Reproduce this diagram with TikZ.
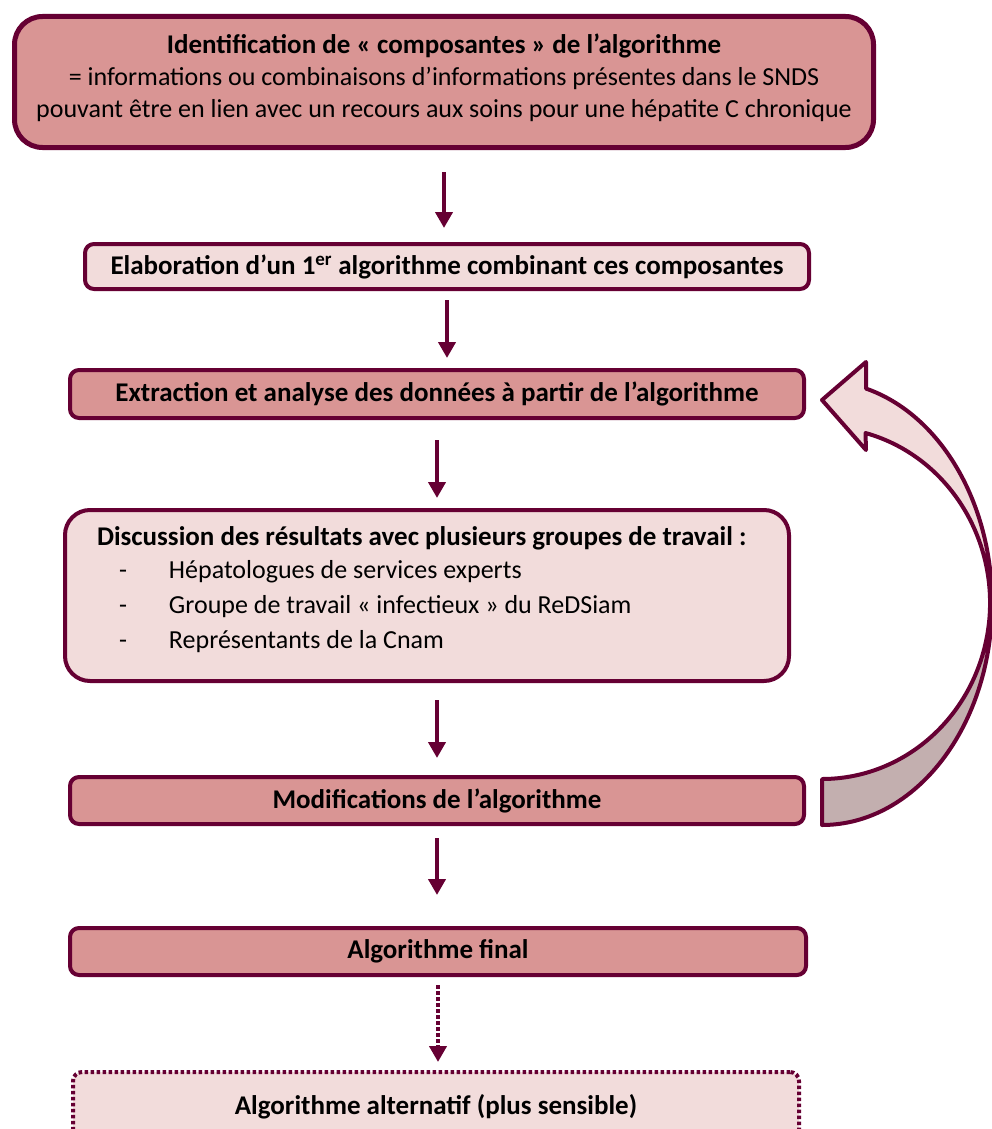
\documentclass[tikz,border=0pt]{standalone}
\usepackage{fontspec}
\setmainfont{Carlito}
\usetikzlibrary{arrows.meta,positioning}

\definecolor{maroon}{HTML}{660033}
\definecolor{rosedark}{HTML}{D99594}
\definecolor{roselight}{HTML}{F2DCDB}
\definecolor{rosegrey}{HTML}{C3AFAF}

\begin{document}
\begin{tikzpicture}[
    x=1pt, y=1pt,
    node distance=92pt,
    box/.style={rectangle,draw=maroon,line width=4pt,rounded corners=9pt,align=center,
      font=\fontsize{27}{32}\selectfont\bfseries},
    darkbox/.style={box,fill=rosedark},
    lightbox/.style={box,fill=roselight},
    arrow/.style={-{Triangle[length=16pt,width=17pt]},line width=4pt,draw=maroon},
    dotarrow/.style={arrow,dash pattern=on 3.5pt off 2.5pt},
    line join=round
]
\useasboundingbox (0,0) rectangle (991,-1129);

% Steps of the algorithm
\node[darkbox,rounded corners=28pt,line width=5pt,minimum width=859pt,minimum height=131pt,
      font=\fontsize{26}{32}\selectfont] (ident) at (444,-82)
  {{\fontsize{27}{32}\selectfont\bfseries Identification de « composantes » de l’algorithme}\\
   = informations ou combinaisons d’informations présentes dans le SNDS\\
   pouvant être en lien avec un recours aux soins pour une hépatite C chronique\rule[-12pt]{0pt}{0pt}};
\node[lightbox,minimum width=724pt,minimum height=45pt,below=92pt of ident,xshift=3pt] (first)
  {Elaboration d’un 1\textsuperscript{er} algorithme combinant ces composantes};
\node[darkbox,minimum width=734pt,minimum height=48pt,below=77pt of first,xshift=-10pt] (extract)
  {Extraction et analyse des données à partir de l’algorithme};
\node[lightbox,rounded corners=25pt,minimum width=724pt,minimum height=171pt,
      below=88pt of extract,xshift=-10pt,align=flush left,inner xsep=32pt,text width=660pt,
      font=\fontsize{26}{30}\selectfont] (discuss)
  {{\fontsize{27}{30}\selectfont\bfseries Discussion des résultats avec plusieurs groupes de travail :}\\[3pt]
   \hspace*{22pt}\makebox[50pt][l]{-}Hépatologues de services experts\\[5pt]
   \hspace*{22pt}\makebox[50pt][l]{-}Groupe de travail « infectieux » du ReDSiam\\[5pt]
   \hspace*{22pt}\makebox[50pt][l]{-}Représentants de la Cnam\rule[-16pt]{0pt}{0pt}};
\node[darkbox,minimum width=734pt,minimum height=47pt,below=92pt of discuss,xshift=10pt] (modif)
  {Modifications de l’algorithme};
\node[darkbox,minimum width=736pt,minimum height=47pt,below=100pt of modif,xshift=1pt] (final)
  {Algorithme final};
\node[lightbox,line width=4pt,dash pattern=on 3.5pt off 2.5pt,minimum width=726pt,minimum height=70pt,
      below=93pt of final,xshift=-2pt] (altern)
  {Algorithme alternatif (plus sensible)};

% Arrows
\draw[arrow,shorten <=22pt,shorten >=14pt] (ident.south) -- (ident.south |- first.north);
\draw[arrow,shorten <=9pt,shorten >=10pt] (first.south) -- (first.south |- extract.north);
\draw[arrow,shorten <=20pt,shorten >=10pt] (extract.south) -- (extract.south |- discuss.north);
\draw[arrow,shorten <=17pt,shorten >=17pt] (discuss.south -| modif.north) -- (modif.north);
\draw[arrow,shorten <=12pt,shorten >=31pt] (modif.south) -- (modif.south |- final.north);
\draw[dotarrow,shorten <=8pt,shorten >=8pt] (final.south) -- (final.south |- altern.north);

% Loop back from the modifications to the extraction
\fill[roselight] (822,-825) arc[start angle=-90,end angle=75,x radius=170,y radius=222]
  -- (866,-362) -- (822,-400) -- (866,-450) -- (865.5,-433)
  arc[start angle=75,end angle=-90,x radius=168,y radius=176] -- cycle;
\fill[rosegrey] (822,-825) arc[start angle=-90,end angle=0,x radius=170,y radius=222]
  -- (990,-603) arc[start angle=0,end angle=-90,x radius=168,y radius=176] -- cycle;
\draw[maroon,line width=4pt] (822,-825) arc[start angle=-90,end angle=75,x radius=170,y radius=222]
  -- (866,-362) -- (822,-400) -- (866,-450) -- (865.5,-433)
  arc[start angle=75,end angle=-90,x radius=168,y radius=176] -- cycle;

\end{tikzpicture}
\end{document}
